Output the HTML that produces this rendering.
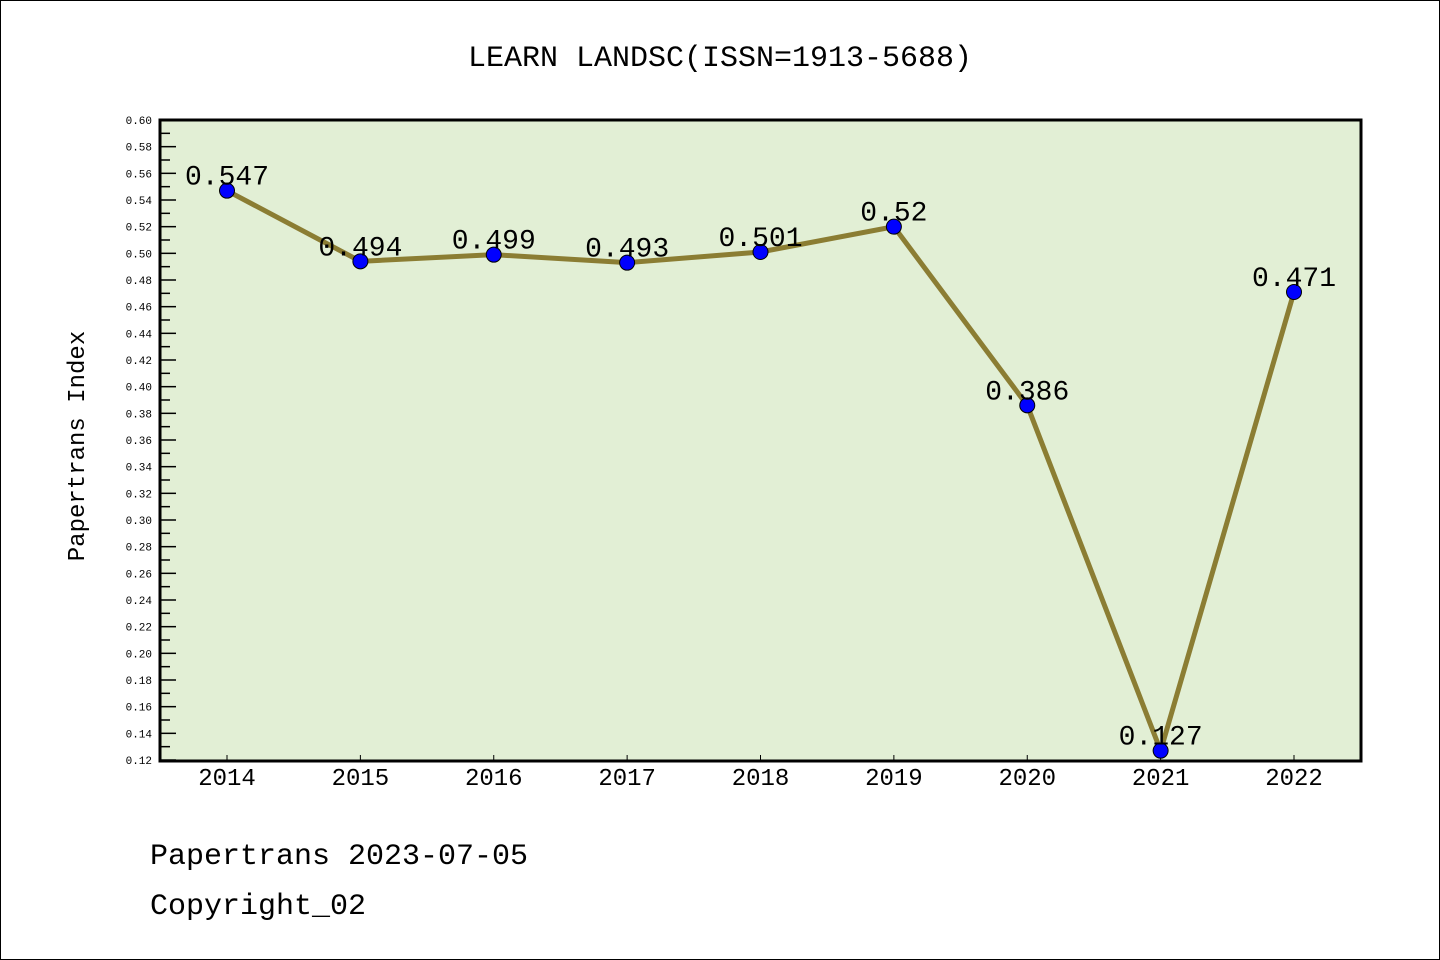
<!DOCTYPE html>
<html><head><meta charset="utf-8"><style>
html,body{margin:0;padding:0;background:#fff}
svg{display:block}
text{font-family:"Liberation Mono","WenQuanYi Zen Hei",monospace}
</style></head><body>
<svg id="c" width="1440" height="960" xmlns="http://www.w3.org/2000/svg">
<rect x="0.5" y="0.5" width="1439" height="959" fill="#fff" stroke="#000"/>
<text x="720" y="66" text-anchor="middle" font-size="30">LEARN LANDSC(ISSN=1913-5688)</text>
<rect x="160" y="120" width="1201" height="641" fill="#e2efd5"/>
<g id="ticks"></g>
<g id="series"></g>
<rect x="160" y="120" width="1201" height="641" fill="none" stroke="#000" stroke-width="3"/>
<text transform="translate(84,446) rotate(-90)" text-anchor="middle" font-size="24">Papertrans Index</text>
<text x="150" y="864" font-size="30">Papertrans 2023-07-05</text>
<text x="150" y="914" font-size="30">Copyright_02</text>
</svg>
<script>
const years = ["2014","2015","2016","2017","2018","2019","2020","2021","2022"];
const values = [0.547,0.494,0.499,0.493,0.501,0.52,0.386,0.127,0.471];
const labels = ["0.547","0.494","0.499","0.493","0.501","0.52","0.386","0.127","0.471"];
const yMin = 0.12, yMax = 0.60;
const NS = "http://www.w3.org/2000/svg";
function X(i){return 227 + i*(1294-227)/(years.length-1);}
function Y(v){return 760 - (v-yMin)/(yMax-yMin)*640;}
function mk(t,a,p){const e=document.createElementNS(NS,t);for(const k in a)e.setAttribute(k,a[k]);p.appendChild(e);return e;}
const tg=document.getElementById('ticks'), sg=document.getElementById('series');
for(let k=0;k<=48;k++){
  const v=yMin+k*0.01, y=Y(v), major=k%2===0;
  const t=mk('line',{x1:160,x2:160+(major?16:10),y1:y,y2:y,stroke:'#000','stroke-width':1.5},tg);
  
  
  if(major){
    const l=mk('text',{x:152,y:y+4,'text-anchor':'end','font-size':11,'font-family':'Liberation Sans, sans-serif'},tg);
    l.textContent=v.toFixed(2);
    
    
  }
}
years.forEach((yr,i)=>{
  const x=X(i);
  const t=mk('line',{x1:x,x2:x,y1:761,y2:755,stroke:'#000','stroke-width':1},tg);
  
  
  const l=mk('text',{x:x,y:785,'text-anchor':'middle','font-size':24,'font-family':'Liberation Sans, sans-serif'},tg);
  l.textContent=yr;
  
  
});
const pl=mk('polyline',{points:values.map((v,i)=>X(i)+','+Y(v)).join(' '),fill:'none',stroke:'#8b7d33','stroke-width':5,'stroke-linejoin':'round'},sg);


values.forEach((v,i)=>{
  const c=mk('circle',{cx:X(i),cy:Y(v),r:7.5,fill:'#0000ff',stroke:'#000','stroke-width':1},sg);
  
  
  const l=mk('text',{x:X(i),y:Y(v)-6,'text-anchor':'middle','font-size':28},sg);
  l.textContent=labels[i];
  
  
});
</script>
</body></html>
